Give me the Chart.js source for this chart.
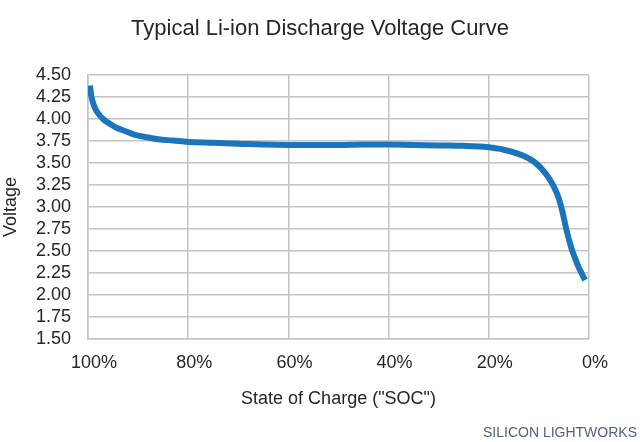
<!DOCTYPE html>
<html>
<head>
<meta charset="utf-8">
<title>Typical Li-ion Discharge Voltage Curve</title>
<script src="https://cdn.jsdelivr.net/npm/chart.js@4/dist/chart.umd.min.js"></script>
<style>
  html, body { margin: 0; padding: 0; background: #fff; }
  .chart-box { width: 640px; height: 442px; }
</style>
</head>
<body>
<div class="chart-box"><canvas id="js-discharge-chart"></canvas></div>
<script>
  // values: state of charge (%) and voltage
  const socValues = [99.6, 99.3, 98.8, 98.3, 97.0, 95.5, 94.3, 92.5, 90.6, 88, 86, 83, 80, 75, 70, 65, 60, 55, 50, 45, 40, 35, 30, 25, 20, 17.8, 14.4, 11.1, 8.4, 6.4, 5.4, 4.5, 3.5, 2.8, 2.1, 1.5, 0.8];
  const voltageValues = [4.38, 4.25, 4.15, 4.09, 4.00, 3.94, 3.90, 3.86, 3.82, 3.79, 3.77, 3.755, 3.74, 3.73, 3.72, 3.71, 3.705, 3.705, 3.705, 3.71, 3.71, 3.705, 3.70, 3.695, 3.68, 3.66, 3.61, 3.52, 3.36, 3.155, 2.97, 2.74, 2.53, 2.42, 2.32, 2.25, 2.17];

  const socTicks = [0, 20, 40, 60, 80, 100];
  const voltMin = 1.5;
  const voltMax = 4.5;
  const voltStep = 0.25;

  const font = 'Liberation Sans, Arial, sans-serif';
  const textColor = '#262626';
  const gridColor = '#c4c4c4';

  const points = socValues.map((soc, i) => ({ x: soc, y: voltageValues[i] }));

  const watermark = {
    id: 'watermark',
    afterDraw(chart) {
      const ctx = chart.ctx;
      ctx.save();
      ctx.font = '14px ' + font;
      ctx.fillStyle = '#4f647c';
      ctx.textAlign = 'right';
      ctx.textBaseline = 'middle';
      ctx.fillText('SILICON LIGHTWORKS', 637, 433);
      ctx.restore();
    },
  };

  new Chart(document.getElementById('js-discharge-chart'), {
    type: 'line',
    data: {
      datasets: [
        {
          label: 'Voltage',
          data: points,
          borderColor: '#1b75bc',
          borderWidth: 6,
          pointRadius: 0,
          fill: false,
          tension: 0.4,
          borderCapStyle: 'butt',
        },
      ],
    },
    options: {
      responsive: true,
      maintainAspectRatio: false,
      animation: false,
      layout: { padding: 0 },
      plugins: {
        legend: { display: false },
        tooltip: { enabled: false },
        title: {
          display: true,
          text: 'Typical Li-ion Discharge Voltage Curve',
          color: textColor,
          font: { family: font, size: 22, weight: 'normal', lineHeight: 1.2 },
          padding: { top: 16, bottom: 32.6 },
        },
      },
      scales: {
        x: {
          type: 'linear',
          reverse: true,
          min: 0,
          max: 100,
          afterBuildTicks: (scale) => {
            scale.ticks = socTicks.map((v) => ({ value: v }));
          },
          afterFit: (scale) => {
            scale.height = 103;
          },
          grid: { color: gridColor, lineWidth: 1.5, drawTicks: false },
          border: { color: gridColor, width: 1.5 },
          ticks: {
            padding: 13,
            labelOffset: 6,
            color: textColor,
            font: { family: font, size: 18 },
            callback: (v) => v + '%',
          },
          title: {
            display: true,
            text: 'State of Charge ("SOC")',
            color: textColor,
            font: { family: font, size: 18, lineHeight: 1.2 },
            padding: { top: 0, bottom: 32 },
          },
        },
        y: {
          min: voltMin,
          max: voltMax,
          afterFit: (scale) => {
            scale.width = 88;
          },
          grid: { color: gridColor, lineWidth: 1.5, drawTicks: false },
          border: { color: gridColor, width: 1.5 },
          ticks: {
            stepSize: voltStep,
            autoSkip: false,
            padding: 17,
            color: textColor,
            font: { family: font, size: 18 },
            callback: (v) => v.toFixed(2),
          },
          title: {
            display: true,
            text: 'Voltage',
            color: textColor,
            font: { family: font, size: 18, lineHeight: 1.2 },
            padding: { top: 0, bottom: 0 },
          },
        },
        // empty right axis, only keeps the gap right of the plot
        yRight: {
          position: 'right',
          min: voltMin,
          max: voltMax,
          afterFit: (scale) => {
            scale.width = 51;
          },
          grid: { drawOnChartArea: false, drawTicks: false },
          border: { display: false },
          ticks: { display: false },
        },
      },
    },
    plugins: [watermark],
  });
</script>
</body>
</html>
